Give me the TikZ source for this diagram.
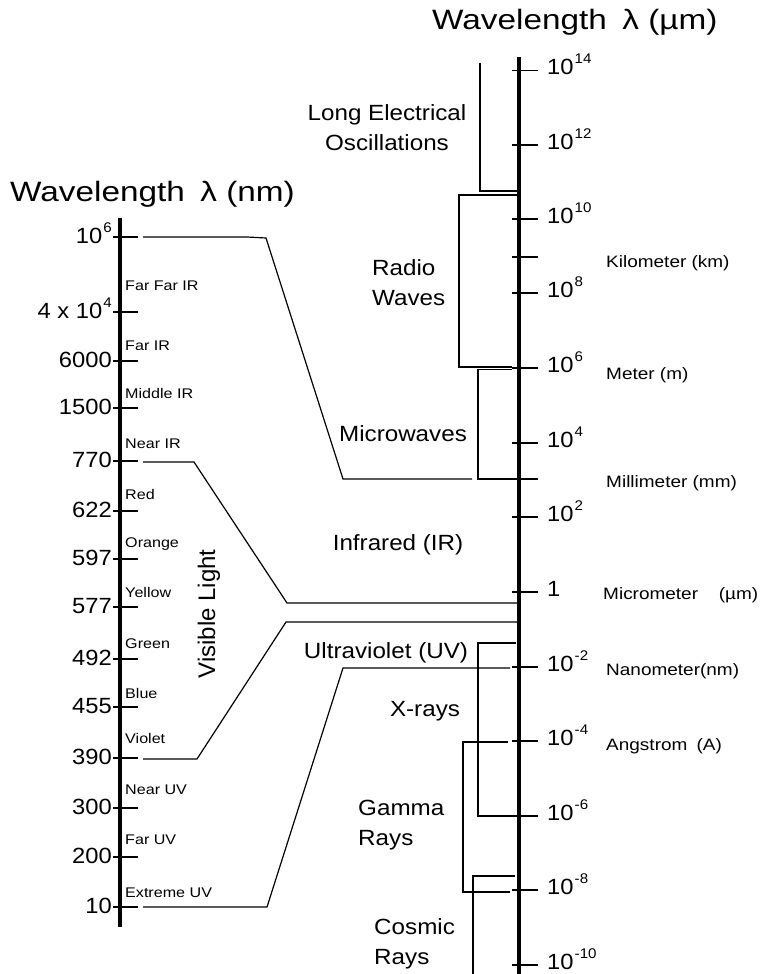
\documentclass[tikz,border=0pt]{standalone}
\usepackage{fontspec}
\setmainfont{Liberation Sans}
\newcommand\sx[1]{\kern1pt\raisebox{11pt}{\fontsize{14}{14}\selectfont #1}}
\tikzset{
  titletext/.style={font=\fontsize{28}{32}\selectfont, xscale=1.19, inner sep=0pt},
  bigtext/.style={font=\fontsize{22}{30}\selectfont, xscale=1.1, inner sep=0pt},
  numtext/.style={font=\fontsize{22}{24}\selectfont, xscale=1.08, inner sep=0pt},
  smalltext/.style={font=\fontsize{14}{16}\selectfont, xscale=1.15, inner sep=0pt, anchor=base west},
  unittext/.style={font=\fontsize{16.5}{18}\selectfont, xscale=1.15, inner sep=0pt, anchor=west},
  axisline/.style={line width=3.6pt},
  tickline/.style={line width=1.5pt},
  conn/.style={line width=1.2pt},
  boxline/.style={line width=1.3pt},
}
\begin{document}
\begin{tikzpicture}[x=1pt,y=-1pt]
\useasboundingbox (0,0) rectangle (761,974);
% titles
\node[titletext, anchor=west] (tR) at (432,22) {Wavelength\hspace{13pt}λ (µm)};
\node[titletext, anchor=west] (tL) at (10,194) {Wavelength\hspace{13pt}λ (nm)};
% right axis
\coordinate (RA1) at (519,57);
\coordinate (RA2) at (519,974);
\draw[axisline] (RA1) -- (RA2);
\foreach \y in {70.7,145,219,257,293,368,443,517,592,667,741,816,890,965}
  \draw[tickline] (512,\y) -- (538,\y);
\foreach \y/\e [count=\k] in {70.7/14,145/12,219/10,293/8,368/6,443/4,517/2,667/-2,741/-4,816/-6,890/-8,965/-10}
  \node[numtext, anchor=base west] (rl\k) at (547,\y+4) {10\sx{\e}};
\node[numtext, anchor=base west] (rl0) at (547,596) {1};
% left axis
\coordinate (LA1) at (120,218);
\coordinate (LA2) at (120,927);
\draw[axisline] (LA1) -- (LA2);
\foreach \y/\t [count=\k] in {237/10\sx{6},312/4 x 10\sx{4},361/6000,408/1500,461/770,511/622,559/597,607/577,659/492,707/455,758/390,808/300,857/200,907/10}{
  \draw[tickline] (113,\y) -- (138,\y);
  \node[numtext, anchor=base east] (ll\k) at (112,\y+6) {\t};
}
% left small labels
\foreach \y/\t [count=\k] in {290/Far Far IR,350/Far IR,398/Middle IR,448/Near IR,499/Red,547/Orange,597/Yellow,648/Green,698/Blue,743/Violet,794/Near UV,844/Far UV,897/Extreme UV}
  \node[smalltext] (sl\k) at (125,\y) {\t};
\node[font=\fontsize{24}{26}\selectfont, rotate=90, inner sep=0pt] (vis) at (209,614) {Visible Light};
% left connectors
\draw[conn] (143,237) -- (247,237) -- (266,238) -- (343,479) -- (472,479);
\draw[conn] (143,462) -- (194,462) -- (287,603) -- (517,603);
\draw[conn] (143,759) -- (197,759) -- (286,622) -- (517,622);
\draw[conn] (143,907) -- (267,907) -- (343,668) -- (510,668);
% right boxes
\draw[boxline] (480,63) -- (480,191) -- (517,191);
\draw[boxline] (517,195) -- (459,195) -- (459,367) -- (512,367);
\draw[boxline] (512,369.5) -- (478,369.5) -- (478,479) -- (538,479);
\draw[boxline] (516,643) -- (478,643) -- (478,816) -- (515,816);
\draw[boxline] (508,742) -- (463,742) -- (463,892) -- (510,892);
\draw[boxline] (515,876) -- (473,876) -- (473,974);
% band labels
\node[bigtext, align=center] (leo) at (387,128) {Long Electrical\\Oscillations};
\node[bigtext, align=left, anchor=west] (radio) at (372,283) {Radio\\Waves};
\node[bigtext] (micro) at (403,434) {Microwaves};
\node[bigtext] (ir) at (398,545) {Infrared (IR)};
\node[bigtext] (uv) at (386,653) {Ultraviolet (UV)};
\node[bigtext] (xr) at (425,711) {X-rays};
\node[bigtext, align=left, anchor=west] (gam) at (358,825) {Gamma\\Rays};
\node[bigtext, align=left, anchor=west] (cos) at (374,944) {Cosmic\\Rays};
% unit labels
\node[unittext] (km) at (606,263) {Kilometer (km)};
\node[unittext] (m) at (606,375) {Meter (m)};
\node[unittext] (mm) at (606,483) {Millimeter (mm)};
\node[unittext] (um) at (603,595) {Micrometer\hspace{18pt}(µm)};
\node[unittext] (nm) at (606,671) {Nanometer(nm)};
\node[unittext] (ang) at (606,746) {Angstrom\hspace{8pt}(A)};
\end{tikzpicture}
\end{document}
